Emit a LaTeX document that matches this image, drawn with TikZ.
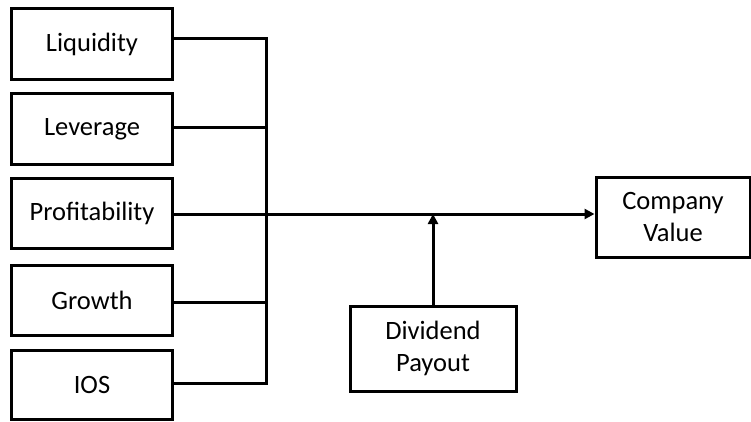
\documentclass[tikz,border=0pt]{standalone}
\usepackage{fontspec}
\setmainfont{Carlito}
\usetikzlibrary{arrows.meta}
\begin{document}
\begin{tikzpicture}[x=1pt,y=-1pt,
  box/.style={draw=black,line width=3pt,align=center,inner sep=0pt,font=\fontsize{26.5}{32}\selectfont},
  conn/.style={line width=3pt,black},
  arr/.style={conn,-{Triangle[length=10pt,width=10pt]}}]
\useasboundingbox (0,0) rectangle (751,422);
\node[box,minimum width=161pt,minimum height=71pt] (liq) at (92,44) {Liquidity};
\node[box,minimum width=161pt,minimum height=71pt] (lev) at (92,129) {Leverage};
\node[box,minimum width=161pt,minimum height=70pt] (pro) at (92,213.5) {Profitability};
\node[box,minimum width=161pt,minimum height=70pt] (gro) at (92,300) {Growth};
\node[box,minimum width=161pt,minimum height=69pt] (ios) at (92,385) {IOS};
\node[box,minimum width=154pt,minimum height=80pt] (cv) at (673,217) {Company\\Value};
\node[box,minimum width=166pt,minimum height=85pt] (dp) at (433,348.5) {Dividend\\Payout};
\coordinate (b1) at (266,39);
\coordinate (b2) at (266,128);
\coordinate (b4) at (266,302);
\coordinate (b5) at (266,383);
\coordinate (m) at (433,214);
\draw[conn] (liq.east |- b1) -- (b1) -- (b5) -- (ios.east |- b5);
\draw[conn] (lev.east |- b2) -- (b2);
\draw[conn] (gro.east |- b4) -- (b4);
\draw[arr] (pro.east |- m) -- (cv.west |- m);
\draw[arr] (dp.north) -- (m);
\end{tikzpicture}
\end{document}
